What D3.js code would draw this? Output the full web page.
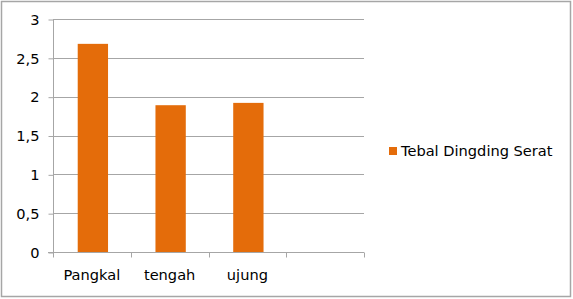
<!DOCTYPE html>
<html>
<head>
<meta charset="utf-8">
<script src="https://cdn.jsdelivr.net/npm/d3@7"></script>
<style>
  body { margin: 0; background: #fff; }
  svg { display: block; }
</style>
</head>
<body>
<svg id="chart" width="573" height="299"></svg>
<script>
const categories = ['Pangkal', 'tengah', 'ujung', '']
const values = [2.68, 1.89, 1.92, null]
const yTicks = [0, 0.5, 1, 1.5, 2, 2.5, 3]
const seriesName = 'Tebal Dingding Serat'

const svg = d3.select('#chart')
const margin = { left: 53, top: 19, right: 209, bottom: 47 }
const width = 573, height = 299
const font = 'DejaVu Sans, Verdana, sans-serif'
const fontSize = '14.6px'

// outer frame
svg.append('rect')
  .attr('x', 1.5).attr('y', 1.5)
  .attr('width', width - 4).attr('height', height - 4)
  .attr('fill', '#fff').attr('stroke', '#a6a6a6').attr('stroke-width', 1.5)

const xScale = d3.scaleBand()
  .domain(d3.range(categories.length))
  .range([margin.left, width - margin.right])
  .paddingInner(0).paddingOuter(0)

const yScale = d3.scaleLinear()
  .domain([0, 3])
  .range([height - margin.bottom, margin.top])

// gridlines
svg.append('g').selectAll('line')
  .data(yTicks.filter((d) => d > 0))
  .enter().append('line')
  .attr('x1', margin.left).attr('x2', width - margin.right)
  .attr('y1', (d) => Math.round(yScale(d)) + 0.5)
  .attr('y2', (d) => Math.round(yScale(d)) + 0.5)
  .attr('stroke', '#a6a6a6').attr('stroke-width', 1)

// y axis
const yAxis = svg.append('g')
  .attr('transform', `translate(${margin.left + 0.5}, 0.5)`)
  .call(d3.axisLeft(yScale).tickValues(yTicks).tickSize(5).tickPadding(9)
    .tickFormat((d) => String(d).replace('.', ',')))
yAxis.select('.domain').attr('stroke', '#a6a6a6').attr('d', `M0,${yScale(3)}V${yScale(0)}`)
yAxis.selectAll('.tick line').attr('stroke', '#a6a6a6')
yAxis.selectAll('.tick text').attr('fill', '#000').attr('font-family', font).attr('font-size', fontSize)

// x axis
const baseY = Math.round(yScale(0)) + 0.5
const xAxis = svg.append('g')
svg.append('line')
  .attr('x1', margin.left - 5).attr('x2', width - margin.right)
  .attr('y1', baseY).attr('y2', baseY)
  .attr('stroke', '#a6a6a6')
xAxis.selectAll('line')
  .data(d3.range(categories.length + 1))
  .enter().append('line')
  .attr('x1', (i) => Math.round(margin.left + i * xScale.step()) + 0.5)
  .attr('x2', (i) => Math.round(margin.left + i * xScale.step()) + 0.5)
  .attr('y1', baseY).attr('y2', baseY + 5)
  .attr('stroke', '#a6a6a6')
xAxis.selectAll('text')
  .data(categories)
  .enter().append('text')
  .attr('x', (d, i) => xScale(i) + xScale.bandwidth() / 2)
  .attr('y', 280)
  .attr('text-anchor', 'middle')
  .attr('font-family', font).attr('font-size', fontSize).attr('fill', '#000')
  .text((d) => d)

// bars
const barW = xScale.bandwidth() * 0.39
svg.append('g').selectAll('rect')
  .data(values.map((v, i) => ({ v, i })).filter((d) => d.v != null))
  .enter().append('rect')
  .attr('x', (d) => xScale(d.i) + xScale.bandwidth() / 2 - barW / 2 + 1)
  .attr('y', (d) => yScale(d.v))
  .attr('width', barW)
  .attr('height', (d) => yScale(0) - yScale(d.v))
  .attr('fill', '#e46c0a')

// legend
const legend = svg.append('g').attr('transform', 'translate(389, 147)')
legend.append('rect').attr('width', 8).attr('height', 8).attr('fill', '#e46c0a')
legend.append('text')
  .attr('x', 12).attr('y', 9)
  .attr('font-family', font).attr('font-size', fontSize).attr('fill', '#000')
  .text(seriesName)
</script>
</body>
</html>
